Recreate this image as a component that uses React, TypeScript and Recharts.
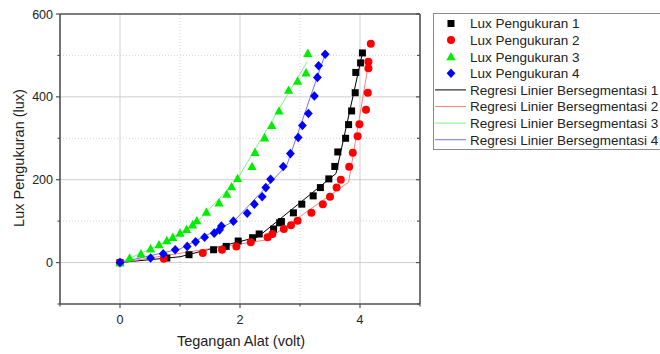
import React from 'react';
import { ComposedChart, Scatter, XAxis, YAxis, ReferenceLine, Legend } from 'recharts';

const FONT = '"Liberation Sans", Arial, Helvetica, sans-serif';

// Measured data (Tegangan Alat in volt, Lux Pengukuran in lux)
const voltage1 = [0, 0.78, 1.15, 1.56, 1.77, 1.97, 2.21, 2.32, 2.56, 2.66, 2.69, 2.89, 3.03, 3.22, 3.34, 3.48, 3.58, 3.63, 3.76, 3.81, 3.86, 3.92, 3.93, 4.01, 4.04];
const lux1 = [0, 11, 19, 31, 39, 52, 60, 69, 81, 96, 99, 120, 141, 161, 181, 202, 232, 267, 300, 333, 366, 410, 459, 482, 506];

const voltage2 = [0, 0.73, 1.38, 1.7, 1.94, 2.18, 2.46, 2.54, 2.73, 2.85, 2.96, 3.19, 3.38, 3.5, 3.61, 3.68, 3.82, 3.88, 3.96, 3.99, 4.1, 4.13, 4.14, 4.14, 4.18];
const lux2 = [0, 9, 23, 31, 39, 49, 61, 69, 81, 90, 101, 120, 141, 159, 181, 200, 231, 265, 305, 334, 369, 410, 469, 485, 528];

const voltage3 = [0, 0.16, 0.35, 0.51, 0.65, 0.78, 0.88, 1.0, 1.11, 1.21, 1.28, 1.44, 1.65, 1.78, 1.86, 1.96, 2.2, 2.25, 2.41, 2.53, 2.65, 2.81, 2.96, 3.1, 3.13];
const lux3 = [0, 11, 21, 33, 43, 53, 61, 71, 80, 91, 101, 122, 144, 165, 183, 203, 232, 266, 301, 331, 366, 416, 438, 458, 505];

const voltage4 = [0, 0.51, 0.72, 0.92, 1.12, 1.26, 1.41, 1.57, 1.66, 1.69, 1.89, 2.12, 2.24, 2.37, 2.43, 2.51, 2.72, 2.84, 2.97, 3.04, 3.14, 3.24, 3.29, 3.31, 3.42];
const lux4 = [0, 11, 21, 31, 39, 50, 61, 71, 79, 88, 100, 119, 141, 159, 181, 201, 232, 263, 302, 331, 360, 402, 447, 475, 503];

// Segmented linear regression breakpoints
const regVolt1 = [0, 1.0, 2.3, 3.6, 4.04];
const regLux1 = [0, 14, 62, 215, 505];
const regVolt2 = [0, 2.45, 3.81, 4.13];
const regLux2 = [0, 55, 194, 470];
const regVolt3 = [0, 0.8, 1.3, 1.95, 3.12];
const regLux3 = [0, 52, 100, 200, 485];
const regVolt4 = [0, 1.0, 1.9, 2.78, 3.42];
const regLux4 = [0, 33, 100, 235, 503];

const xTicks = [-1, 0, 1, 2, 3, 4, 5];
const xLabelTicks = [0, 2, 4];
const yTicks = [-100, 0, 100, 200, 300, 400, 500, 600];
const yLabelTicks = [0, 200, 400, 600];
const xMajorGrid = [0, 2, 4];
const xMinorGrid = [1, 3];
const yMajorGrid = [0, 200, 400];
const yMinorGrid = [100, 300, 500];

const measureNames = ['Lux Pengukuran 1', 'Lux Pengukuran 2', 'Lux Pengukuran 3', 'Lux Pengukuran 4'];
const regressionNames = [
  'Regresi Linier Bersegmentasi 1',
  'Regresi Linier Bersegmentasi 2',
  'Regresi Linier Bersegmentasi 3',
  'Regresi Linier Bersegmentasi 4',
];
const xTitle = 'Tegangan Alat (volt)';
const yTitle = 'Lux Pengukuran (lux)';

const markerColors = ['#000000', '#ff0000', '#00ee00', '#0000ff'];
const lineColors = ['#000000', '#ff8080', '#80f080', '#7070ff'];
const AXIS = '#505050';

const toPts = (xs: number[], ys: number[]) => xs.map((x, i) => ({ x, y: ys[i] }));

const SquareShape = (p: any) => (
  <rect x={p.cx - 3.5} y={p.cy - 3.5} width={7} height={7} fill={markerColors[0]} />
);
const CircleShape = (p: any) => <circle cx={p.cx} cy={p.cy} r={4} fill={markerColors[1]} />;
const TriangleShape = (p: any) => (
  <polygon
    points={`${p.cx},${p.cy - 4.8} ${p.cx + 4.6},${p.cy + 3.6} ${p.cx - 4.6},${p.cy + 3.6}`}
    fill={markerColors[2]}
  />
);
const DiamondShape = (p: any) => (
  <polygon
    points={`${p.cx},${p.cy - 4.8} ${p.cx + 4.4},${p.cy} ${p.cx},${p.cy + 4.8} ${p.cx - 4.4},${p.cy}`}
    fill={markerColors[3]}
  />
);
const NoShape = () => <g />;

const BottomTick = (p: any) => {
  const v = p.payload.value;
  const major = xLabelTicks.includes(v);
  return (
    <g>
      <line x1={p.x} x2={p.x} y1={p.y} y2={p.y + (major ? 4 : 2.5)} stroke={AXIS} strokeWidth={1.2} />
      {major && (
        <text x={p.x} y={p.y + 19.5} textAnchor="middle" fontSize={12.5} fill="#222" fontFamily={FONT}>
          {v}
        </text>
      )}
    </g>
  );
};
const TopTick = (p: any) => {
  const v = p.payload.value;
  const major = xLabelTicks.includes(v);
  return <line x1={p.x} x2={p.x} y1={p.y} y2={p.y + (major ? 4 : 3)} stroke={AXIS} strokeWidth={1.2} />;
};
const LeftTick = (p: any) => {
  const v = p.payload.value;
  const major = yLabelTicks.includes(v);
  return (
    <g>
      <line x1={p.x} x2={p.x - (major ? 4 : 2.5)} y1={p.y} y2={p.y} stroke={AXIS} strokeWidth={1.2} />
      {major && (
        <text x={p.x - 7} y={p.y + 4.5} textAnchor="end" fontSize={12.5} fill="#222" fontFamily={FONT}>
          {v}
        </text>
      )}
    </g>
  );
};
const RightTick = (p: any) => {
  const v = p.payload.value;
  const major = yLabelTicks.includes(v);
  return <line x1={p.x} x2={p.x - (major ? 4 : 3)} y1={p.y} y2={p.y} stroke={AXIS} strokeWidth={1.2} />;
};

const LegendMarker = ({ i, x, y }: { i: number; x: number; y: number }) => {
  if (i === 0) return <SquareShape cx={x} cy={y} />;
  if (i === 1) return <CircleShape cx={x} cy={y} />;
  if (i === 2) return <TriangleShape cx={x} cy={y} />;
  return <DiamondShape cx={x} cy={y} />;
};

const renderLegend = () => {
  const rowY = (k: number) => 10.5 + k * 16.6;
  return (
    <div
      style={{
        width: 227,
        height: 137,
        border: '1px solid #8a8a8a',
        borderRight: 'none',
        boxSizing: 'border-box',
        background: '#fff',
        overflow: 'hidden',
      }}
    >
      <svg width={227} height={137} style={{ display: 'block', marginLeft: -1, marginTop: -1 }}>
        {measureNames.map((name, i) => (
          <g key={name}>
            <LegendMarker i={i} x={18} y={rowY(i)} />
            <text x={37} y={rowY(i) + 4.8} fontSize={13.5} fill="#222" fontFamily={FONT}>
              {name}
            </text>
          </g>
        ))}
        {regressionNames.map((name, i) => (
          <g key={name}>
            <line x1={2} x2={33} y1={rowY(i + 4)} y2={rowY(i + 4)} stroke={lineColors[i]} strokeWidth={1} />
            <text x={37} y={rowY(i + 4) + 4.8} fontSize={13.5} fill="#222" fontFamily={FONT}>
              {name}
            </text>
          </g>
        ))}
      </svg>
    </div>
  );
};

const measured = [
  { data: toPts(voltage1, lux1), shape: SquareShape, name: measureNames[0] },
  { data: toPts(voltage2, lux2), shape: CircleShape, name: measureNames[1] },
  { data: toPts(voltage3, lux3), shape: TriangleShape, name: measureNames[2] },
  { data: toPts(voltage4, lux4), shape: DiamondShape, name: measureNames[3] },
];
const regressions = [
  { data: toPts(regVolt1, regLux1), name: regressionNames[0] },
  { data: toPts(regVolt2, regLux2), name: regressionNames[1] },
  { data: toPts(regVolt3, regLux3), name: regressionNames[2] },
  { data: toPts(regVolt4, regLux4), name: regressionNames[3] },
];

export default function App() {
  return (
    <div style={{ position: 'absolute', left: 0, top: 0, width: 660, height: 354, background: '#fff', overflow: 'hidden' }}>
      <ComposedChart width={660} height={354} margin={{ top: 4, right: 230, bottom: 20, left: 20 }}>
        <XAxis
          xAxisId="b"
          dataKey="x"
          type="number"
          domain={[-1, 5]}
          ticks={xTicks}
          interval={0}
          allowDataOverflow
          height={30}
          tickSize={0}
          tickMargin={0}
          tick={BottomTick}
          axisLine={{ stroke: AXIS, strokeWidth: 1.6 }}
        />
        <XAxis
          xAxisId="t"
          orientation="top"
          type="number"
          domain={[-1, 5]}
          ticks={xTicks}
          interval={0}
          allowDataOverflow
          height={10}
          tickSize={0}
          tickMargin={0}
          tick={TopTick}
          axisLine={{ stroke: AXIS, strokeWidth: 1.6 }}
        />
        <YAxis
          yAxisId="l"
          dataKey="y"
          type="number"
          domain={[-100, 600]}
          ticks={yTicks}
          interval={0}
          allowDataOverflow
          width={40}
          tickSize={0}
          tickMargin={0}
          tick={LeftTick}
          axisLine={{ stroke: AXIS, strokeWidth: 1.6 }}
        />
        <YAxis
          yAxisId="r"
          orientation="right"
          type="number"
          domain={[-100, 600]}
          ticks={yTicks}
          interval={0}
          allowDataOverflow
          width={10}
          tickSize={0}
          tickMargin={0}
          tick={RightTick}
          axisLine={{ stroke: AXIS, strokeWidth: 1.6 }}
        />
        {xMinorGrid.map((v) => (
          <ReferenceLine key={'xm' + v} xAxisId="b" yAxisId="l" x={v} stroke="#d6d6d6" strokeDasharray="1 2" />
        ))}
        {yMinorGrid.map((v) => (
          <ReferenceLine key={'ym' + v} xAxisId="b" yAxisId="l" y={v} stroke="#d6d6d6" strokeDasharray="1 2" />
        ))}
        {xMajorGrid.map((v) => (
          <ReferenceLine key={'xM' + v} xAxisId="b" yAxisId="l" x={v} stroke="#cfcfcf" strokeWidth={1} />
        ))}
        {yMajorGrid.map((v) => (
          <ReferenceLine key={'yM' + v} xAxisId="b" yAxisId="l" y={v} stroke="#cfcfcf" strokeWidth={1} />
        ))}
        {regressions.map((r, i) => (
          <Scatter
            key={r.name}
            name={r.name}
            xAxisId="b"
            yAxisId="l"
            data={r.data}
            fill="none"
            line={{ stroke: lineColors[i], strokeWidth: 1 }}
            shape={NoShape}
            isAnimationActive={false}
            legendType="none"
          />
        ))}
        {measured.map((m, i) => (
          <Scatter
            key={m.name}
            name={m.name}
            xAxisId="b"
            yAxisId="l"
            data={m.data}
            fill={markerColors[i]}
            shape={m.shape}
            isAnimationActive={false}
          />
        ))}
        <Legend
          layout="vertical"
          align="center"
          verticalAlign="middle"
          content={renderLegend}
          wrapperStyle={{ left: 433, top: 13, width: 227, height: 137 }}
        />
      </ComposedChart>
      <div
        style={{
          position: 'absolute',
          left: 241,
          top: 341,
          transform: 'translate(-50%, -50%)',
          fontFamily: FONT,
          fontSize: 14.5,
          color: '#222',
          whiteSpace: 'nowrap',
        }}
      >
        {xTitle}
      </div>
      <div
        style={{
          position: 'absolute',
          left: 19,
          top: 158,
          transform: 'translate(-50%, -50%) rotate(-90deg)',
          fontFamily: FONT,
          fontSize: 14.5,
          color: '#222',
          whiteSpace: 'nowrap',
        }}
      >
        {yTitle}
      </div>
    </div>
  );
}
